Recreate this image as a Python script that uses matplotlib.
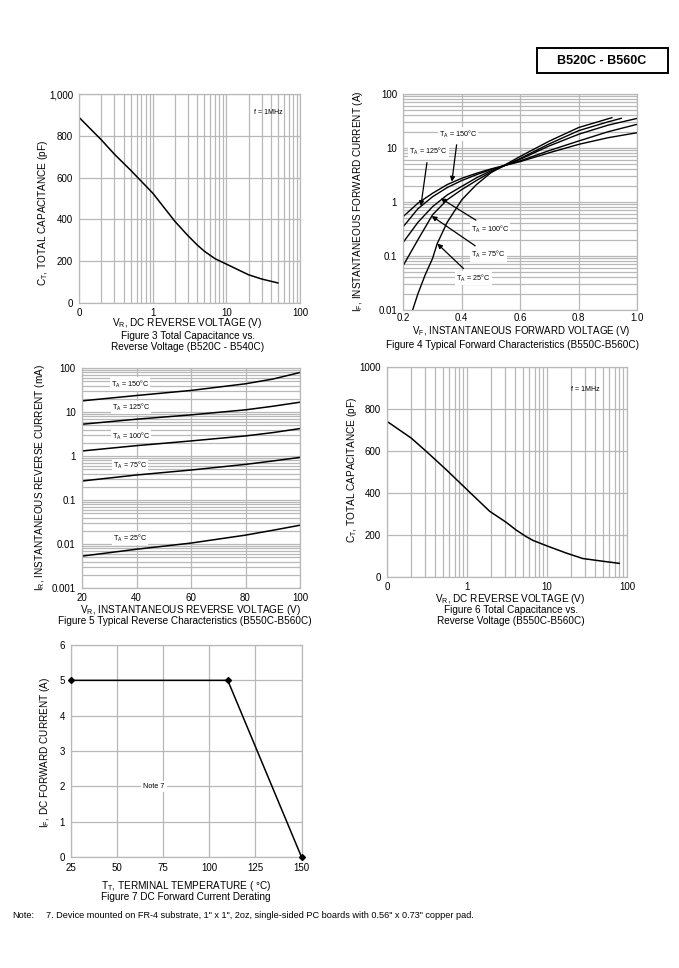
import matplotlib
matplotlib.use("Agg")
import matplotlib.pyplot as plt
from matplotlib.ticker import FixedLocator, LogLocator, NullFormatter
from matplotlib.patches import Rectangle

plt.rcParams['font.family'] = ['Liberation Sans', 'DejaVu Sans']
plt.rcParams['mathtext.default'] = 'regular'

# ---------------- data ----------------
# Figure 3: total capacitance vs reverse voltage (B520C-B540C)
fig3_vr = [0.1, 0.2, 0.3, 0.5, 1, 2, 3, 4, 5, 7, 10, 20, 30, 50]
fig3_ct = [887, 780, 712, 635, 525, 390, 322, 278, 248, 212, 186, 135, 115, 96]

# Figure 4: forward characteristics (B550C-B560C)
fig4_v_150 = [0.2, 0.25, 0.3, 0.35, 0.4, 0.45, 0.5, 0.6, 0.7, 0.8, 0.9, 1.0]
fig4_i_150 = [0.54, 0.95, 1.45, 2.1, 2.75, 3.4, 4.1, 5.6, 8.2, 11.7, 15.5, 19.2]
fig4_v_125 = [0.2, 0.25, 0.3, 0.35, 0.4, 0.45, 0.5, 0.6, 0.7, 0.8, 0.9, 1.0]
fig4_i_125 = [0.35, 0.75, 1.25, 1.85, 2.5, 3.2, 4.0, 5.8, 9.0, 13.5, 20.0, 27.5]
fig4_v_100 = [0.2, 0.25, 0.3, 0.35, 0.4, 0.45, 0.5, 0.6, 0.7, 0.8, 0.9, 1.0]
fig4_i_100 = [0.18, 0.42, 0.82, 1.35, 1.95, 2.8, 3.8, 6.2, 11.0, 18.0, 26.5, 35.4]
fig4_v_75 = [0.2, 0.25, 0.3, 0.35, 0.4, 0.45, 0.5, 0.6, 0.7, 0.8, 0.9, 0.945]
fig4_i_75 = [0.067, 0.2, 0.58, 1.1, 1.7, 2.5, 3.6, 6.4, 12.0, 21.0, 30.5, 35.4]
fig4_v_25 = [0.23, 0.25, 0.275, 0.3, 0.316, 0.35, 0.4, 0.45, 0.5, 0.6, 0.7, 0.8, 0.913]
fig4_i_25 = [0.0093, 0.02, 0.045, 0.09, 0.17, 0.42, 1.1, 2.1, 3.5, 7.0, 13.5, 24.0, 36.4]

# Figure 5: reverse characteristics (B550C-B560C)
fig5_vr = [20, 40, 60, 80, 90, 100]
fig5_ir_150 = [17.9, 23.7, 30.9, 43.8, 56, 79]
fig5_ir_125 = [5.27, 6.86, 8.6, 11.2, 13.5, 16.7]
fig5_ir_100 = [1.3, 1.72, 2.2, 2.86, 3.4, 4.2]
fig5_ir_75 = [0.27, 0.37, 0.48, 0.645, 0.77, 0.93]
fig5_ir_25 = [0.0053, 0.0076, 0.0105, 0.0159, 0.0205, 0.0267]

# Figure 6: total capacitance vs reverse voltage (B550C-B560C)
fig6_vr = [0.1, 0.2, 0.31, 0.55, 1.0, 1.92, 3.1, 4.1, 5.5, 6.7, 10, 17.4, 28, 50, 80]
fig6_ct = [741, 662, 598, 511, 416, 313, 260, 224, 192, 174, 148, 114, 88, 75, 65]

# Figure 7: DC forward current derating
fig7_tt = [25, 110, 150]
fig7_if = [5, 5, 0]

# ---------------- layout helpers ----------------
W, H = 679, 968
fig = plt.figure(figsize=(W / 100, H / 100), dpi=100)
fig.patch.set_facecolor('white')

GRID = '#b8b8b8'
TICK_FS = 7
LAB_FS = 7.2


def add_axes(l, t, r, b):
    return fig.add_axes([l / W, 1 - b / H, (r - l) / W, (b - t) / H])


def ftext(x, y, s, **kw):
    kw.setdefault('ha', 'center')
    kw.setdefault('va', 'center')
    kw.setdefault('fontsize', LAB_FS)
    fig.text(x / W, 1 - y / H, s, **kw)


def style(ax, xpad=4.5, ypad=4.5):
    for sp in ax.spines.values():
        sp.set_color(GRID)
        sp.set_linewidth(0.9)
    ax.tick_params(which='both', length=0, labelsize=TICK_FS, colors='black')
    ax.tick_params(axis='x', pad=xpad)
    ax.tick_params(axis='y', pad=ypad)
    ax.set_axisbelow(True)


# ---------------- Figure 3 ----------------
ax3 = add_axes(79.3, 94, 300, 303)
ax3.set_xscale('log')
ax3.set_xlim(0.1, 100)
ax3.set_ylim(0, 1000)
ax3.plot(fig3_vr, fig3_ct, color='black', lw=1.1)
ax3.xaxis.set_major_locator(FixedLocator([0.1, 1, 10, 100]))
ax3.set_xticklabels(['0', '1', '10', '100'])
ax3.xaxis.set_minor_locator(LogLocator(base=10, subs=range(2, 10)))
ax3.xaxis.set_minor_formatter(NullFormatter())
ax3.yaxis.set_major_locator(FixedLocator([0, 200, 400, 600, 800, 1000]))
ax3.set_yticklabels(['0', '200', '400', '600', '800', '1,000'])
ax3.grid(True, which='both', axis='x', color=GRID, lw=0.9)
ax3.grid(True, which='major', axis='y', color=GRID, lw=0.9)
style(ax3, xpad=3.5)
ax3.text(0.855, 0.91, 'f = 1MHz', transform=ax3.transAxes, fontsize=5, ha='center', va='center')
ftext(42.7, 213, r'C$_T$, TOTAL CAPACITANCE (pF)', rotation=90)
ftext(187, 323.5, r'V$_R$, DC REVERSE VOLTAGE (V)')
ftext(188, 335.5, 'Figure 3 Total Capacitance vs.')
ftext(188, 347, 'Reverse Voltage (B520C - B540C)')

# ---------------- Figure 4 ----------------
ax4 = add_axes(403.3, 94, 637.3, 310)
ax4.set_yscale('log')
ax4.set_xlim(0.2, 1.0)
ax4.set_ylim(0.01, 100)
for v, i in [(fig4_v_150, fig4_i_150), (fig4_v_125, fig4_i_125), (fig4_v_100, fig4_i_100),
             (fig4_v_75, fig4_i_75), (fig4_v_25, fig4_i_25)]:
    ax4.plot(v, i, color='black', lw=1.0)
ax4.xaxis.set_major_locator(FixedLocator([0.2, 0.4, 0.6, 0.8, 1.0]))
ax4.set_xticklabels(['0.2', '0.4', '0.6', '0.8', '1.0'])
ax4.yaxis.set_major_locator(FixedLocator([0.01, 0.1, 1, 10, 100]))
ax4.set_yticklabels(['0.01', '0.1', '1', '10', '100'])
ax4.yaxis.set_minor_locator(LogLocator(base=10, subs=range(2, 10)))
ax4.yaxis.set_minor_formatter(NullFormatter())
ax4.grid(True, which='major', axis='x', color=GRID, lw=0.9)
ax4.grid(True, which='both', axis='y', color=GRID, lw=0.9)
style(ax4, xpad=2.5)
ann_kw = dict(fontsize=5.2, ha='center', va='center',
              bbox=dict(boxstyle='square,pad=0.15', fc='white', ec='none'),
              arrowprops=dict(arrowstyle='-|>', color='black', lw=0.9, mutation_scale=7,
                              shrinkA=3, shrinkB=0))
ax4.annotate(r'T$_A$ = 150°C', xy=(0.366, 2.38), xytext=(0.387, 18.2), **ann_kw)
ax4.annotate(r'T$_A$ = 125°C', xy=(0.26, 0.84), xytext=(0.286, 8.5), **ann_kw)
ax4.annotate(r'T$_A$ = 100°C', xy=(0.328, 1.17), xytext=(0.497, 0.316), **ann_kw)
ax4.annotate(r'T$_A$ = 75°C', xy=(0.297, 0.55), xytext=(0.491, 0.105), **ann_kw)
ax4.annotate(r'T$_A$ = 25°C', xy=(0.316, 0.17), xytext=(0.44, 0.039), **ann_kw)
ftext(358, 201, r'I$_F$, INSTANTANEOUS FORWARD CURRENT (A)', rotation=90)
ftext(521, 331, r'V$_F$, INSTANTANEOUS FORWARD VOLTAGE (V)', fontsize=7)
ftext(512, 345.5, 'Figure 4 Typical Forward Characteristics (B550C-B560C)')

# ---------------- Figure 5 ----------------
ax5 = add_axes(82, 368, 300, 588)
ax5.set_yscale('log')
ax5.set_xlim(20, 100)
ax5.set_ylim(0.001, 100)
for ir in [fig5_ir_150, fig5_ir_125, fig5_ir_100, fig5_ir_75, fig5_ir_25]:
    ax5.plot(fig5_vr, ir, color='black', lw=1.1)
ax5.xaxis.set_major_locator(FixedLocator([20, 40, 60, 80, 100]))
ax5.yaxis.set_major_locator(FixedLocator([0.001, 0.01, 0.1, 1, 10, 100]))
ax5.set_yticklabels(['0.001', '0.01', '0.1', '1', '10', '100'])
ax5.yaxis.set_minor_locator(LogLocator(base=10, subs=range(2, 10)))
ax5.yaxis.set_minor_formatter(NullFormatter())
ax5.grid(True, which='major', axis='x', color=GRID, lw=0.9)
ax5.grid(True, which='both', axis='y', color=GRID, lw=0.9)
style(ax5, xpad=3.5)
lab5 = dict(fontsize=5.2, ha='center', va='center',
            bbox=dict(boxstyle='square,pad=0.15', fc='white', ec='none'))
ax5.text(37.6, 43.3, r'T$_A$ = 150°C', **lab5)
ax5.text(37.9, 12.5, r'T$_A$ = 125°C', **lab5)
ax5.text(37.9, 2.85, r'T$_A$ = 100°C', **lab5)
ax5.text(37.6, 0.6, r'T$_A$ = 75°C', **lab5)
ax5.text(37.6, 0.0135, r'T$_A$ = 25°C', **lab5)
ftext(40, 478, r'I$_R$, INSTANTANEOUS REVERSE CURRENT (mA)', rotation=90)
ftext(190, 610, r'V$_R$, INSTANTANEOUS REVERSE VOLTAGE (V)')
ftext(185, 621.5, 'Figure 5 Typical Reverse Characteristics (B550C-B560C)')

# ---------------- Figure 6 ----------------
ax6 = add_axes(387, 367, 627, 577)
ax6.set_xscale('log')
ax6.set_xlim(0.1, 100)
ax6.set_ylim(0, 1000)
ax6.plot(fig6_vr, fig6_ct, color='black', lw=1.1)
ax6.xaxis.set_major_locator(FixedLocator([0.1, 1, 10, 100]))
ax6.set_xticklabels(['0', '1', '10', '100'])
ax6.xaxis.set_minor_locator(LogLocator(base=10, subs=range(2, 10)))
ax6.xaxis.set_minor_formatter(NullFormatter())
ax6.yaxis.set_major_locator(FixedLocator([0, 200, 400, 600, 800, 1000]))
ax6.set_yticklabels(['0', '200', '400', '600', '800', '1000'])
ax6.grid(True, which='both', axis='x', color=GRID, lw=0.9)
ax6.grid(True, which='major', axis='y', color=GRID, lw=0.9)
style(ax6, xpad=3.5)
ax6.text(0.825, 0.895, 'f = 1MHz', transform=ax6.transAxes, fontsize=5, ha='center', va='center')
ftext(352, 470, r'C$_T$, TOTAL CAPACITANCE (pF)', rotation=90)
ftext(510, 599, r'V$_R$, DC REVERSE VOLTAGE (V)')
ftext(511, 610, 'Figure 6 Total Capacitance vs.')
ftext(511, 621.5, 'Reverse Voltage (B550C-B560C)')

# ---------------- Figure 7 ----------------
ax7 = add_axes(71, 645, 301.5, 857)
ax7.set_xlim(25, 150)
ax7.set_ylim(0, 6)
ax7.plot(fig7_tt, fig7_if, color='black', lw=1.1, marker='D', ms=3, mfc='black', mec='black',
         clip_on=False, zorder=5)
ax7.xaxis.set_major_locator(FixedLocator([25, 50, 75, 100, 125, 150]))
ax7.yaxis.set_major_locator(FixedLocator([0, 1, 2, 3, 4, 5, 6]))
ax7.grid(True, which='major', color=GRID, lw=0.9)
style(ax7)
ax7.text(70, 2.0, 'Note 7', fontsize=5.2, ha='center', va='center',
         bbox=dict(boxstyle='square,pad=0.3', fc='white', ec='none'))
ftext(45, 752, r'I$_F$, DC FORWARD CURRENT (A)', rotation=90)
ftext(186, 886, r'T$_T$, TERMINAL TEMPERATURE ( °C)')
ftext(186, 897, 'Figure 7 DC Forward Current Derating')

# ---------------- header & note ----------------
fig.patches.append(Rectangle((537 / W, 1 - 73 / H), (668 - 537) / W, (73 - 48) / H,
                             transform=fig.transFigure, fill=False, ec='black', lw=1.4))
ftext(602, 61, 'B520C - B560C', fontsize=9, fontweight='bold')
ftext(12, 916, 'Note:', fontsize=6.6, ha='left')
ftext(46, 916, '7. Device mounted on FR-4 substrate, 1" x 1", 2oz, single-sided PC boards '
      'with 0.56" x 0.73" copper pad.', fontsize=6.6, ha='left')

fig.savefig('out.png', dpi=100, facecolor='white')
